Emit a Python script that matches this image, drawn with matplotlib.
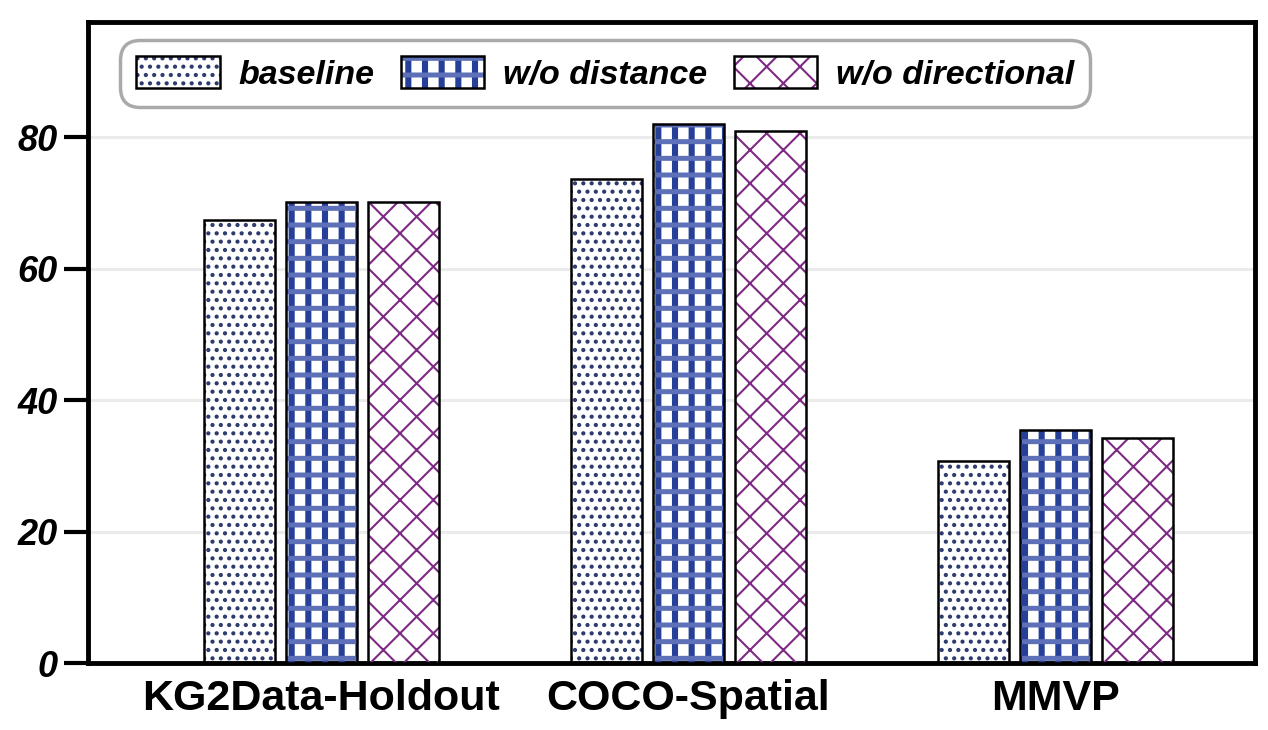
import matplotlib
matplotlib.use("Agg")
import matplotlib.pyplot as plt
from matplotlib.patches import Rectangle
from matplotlib.legend_handler import HandlerTuple
import numpy as np

categories = ["KG2Data-Holdout", "COCO-Spatial", "MMVP"]
series_names = ["baseline", "w/o distance", "w/o directional"]
baseline = [67.4, 73.7, 30.7]
wo_distance = [70.2, 82.0, 35.5]
wo_directional = [70.2, 80.9, 34.2]
yticks = [0, 20, 40, 60, 80]

plt.rcParams['font.family'] = ['Liberation Sans', 'DejaVu Sans']

fig = plt.figure(figsize=(12.68, 7.30), dpi=100)
ax = fig.add_axes([0.0694, 0.0914, 0.9897 - 0.0694, 0.9703 - 0.0914])

x = np.arange(len(categories))
width = 0.1935
step = 0.2234

def hatch_layer(xs, hs, hatch, color, lw, z):
    with plt.rc_context({'hatch.linewidth': lw}):
        bars = ax.bar(xs, hs, width, facecolor='none', edgecolor=color,
                      linewidth=0, hatch=hatch, zorder=z)
    for b in bars:
        if hasattr(b, 'set_hatch_linewidth'):
            b.set_hatch_linewidth(lw)
    return bars

# layer specs per series: list of (hatch, color, linewidth)
specs = [
    [('..', '#2d3a6e', 1.8)],
    [('|', '#26409a', 4.4), ('-', '#5d70b8', 3.6)],
    [('x', '#7e2a84', 1.5)],
]
lw_map = {h: lw for spec in specs for (h, c, lw) in spec}
values = [baseline, wo_distance, wo_directional]
handles = []
for i, (vals, spec) in enumerate(zip(values, specs)):
    xs = x + (i - 1) * step
    base = ax.bar(xs, vals, width, facecolor='white', edgecolor='none', linewidth=0, zorder=2)
    layers = []
    for j, (h, c, lw) in enumerate(spec):
        layers.append(hatch_layer(xs, vals, h, c, lw, 3 + j * 0.1))
    outline = ax.bar(xs, vals, width, facecolor='none', edgecolor='black', linewidth=1.8, zorder=4)
    handles.append(tuple([base[0]] + [l[0] for l in layers] + [outline[0]]))

ax.set_xlim(-0.636, 2.544)
ax.set_ylim(0, 97.6)
ax.set_yticks(yticks)
ax.set_yticklabels([str(t) for t in yticks], fontsize=26, fontweight='bold', fontstyle='italic')
ax.set_xticks(x)
ax.set_xticklabels(categories, fontsize=31, fontweight='bold')
ax.tick_params(axis='x', length=0, pad=11)
ax.tick_params(axis='y', length=17, width=3, pad=5, direction='out')

for s in ax.spines.values():
    s.set_linewidth(3.5)
    s.set_color('black')

for t in yticks[1:]:
    ax.axhline(t, color='#ebebeb', linewidth=2.2, zorder=1)

leg = ax.legend(handles, series_names, loc='upper left', bbox_to_anchor=(0.0274, 0.9715),
                borderaxespad=0, ncol=3,
                prop={'weight': 'bold', 'style': 'italic', 'size': 24.5},
                handler_map={tuple: HandlerTuple(ndivide=1, pad=0)},
                handlelength=2.45, handleheight=1.05, handletextpad=0.55,
                columnspacing=0.78, borderpad=0.48, frameon=True, fancybox=True,
                framealpha=1, edgecolor='#aaaaaa', facecolor='white')
leg.get_frame().set_linewidth(2.5)
leg.get_frame().set_boxstyle('round', pad=0, rounding_size=0.6)
leg.set_zorder(10)

for r in leg.findobj(Rectangle):
    h = r.get_hatch()
    if h in lw_map and hasattr(r, 'set_hatch_linewidth'):
        r.set_hatch_linewidth(lw_map[h])

fig.savefig('out.png', dpi=100)
